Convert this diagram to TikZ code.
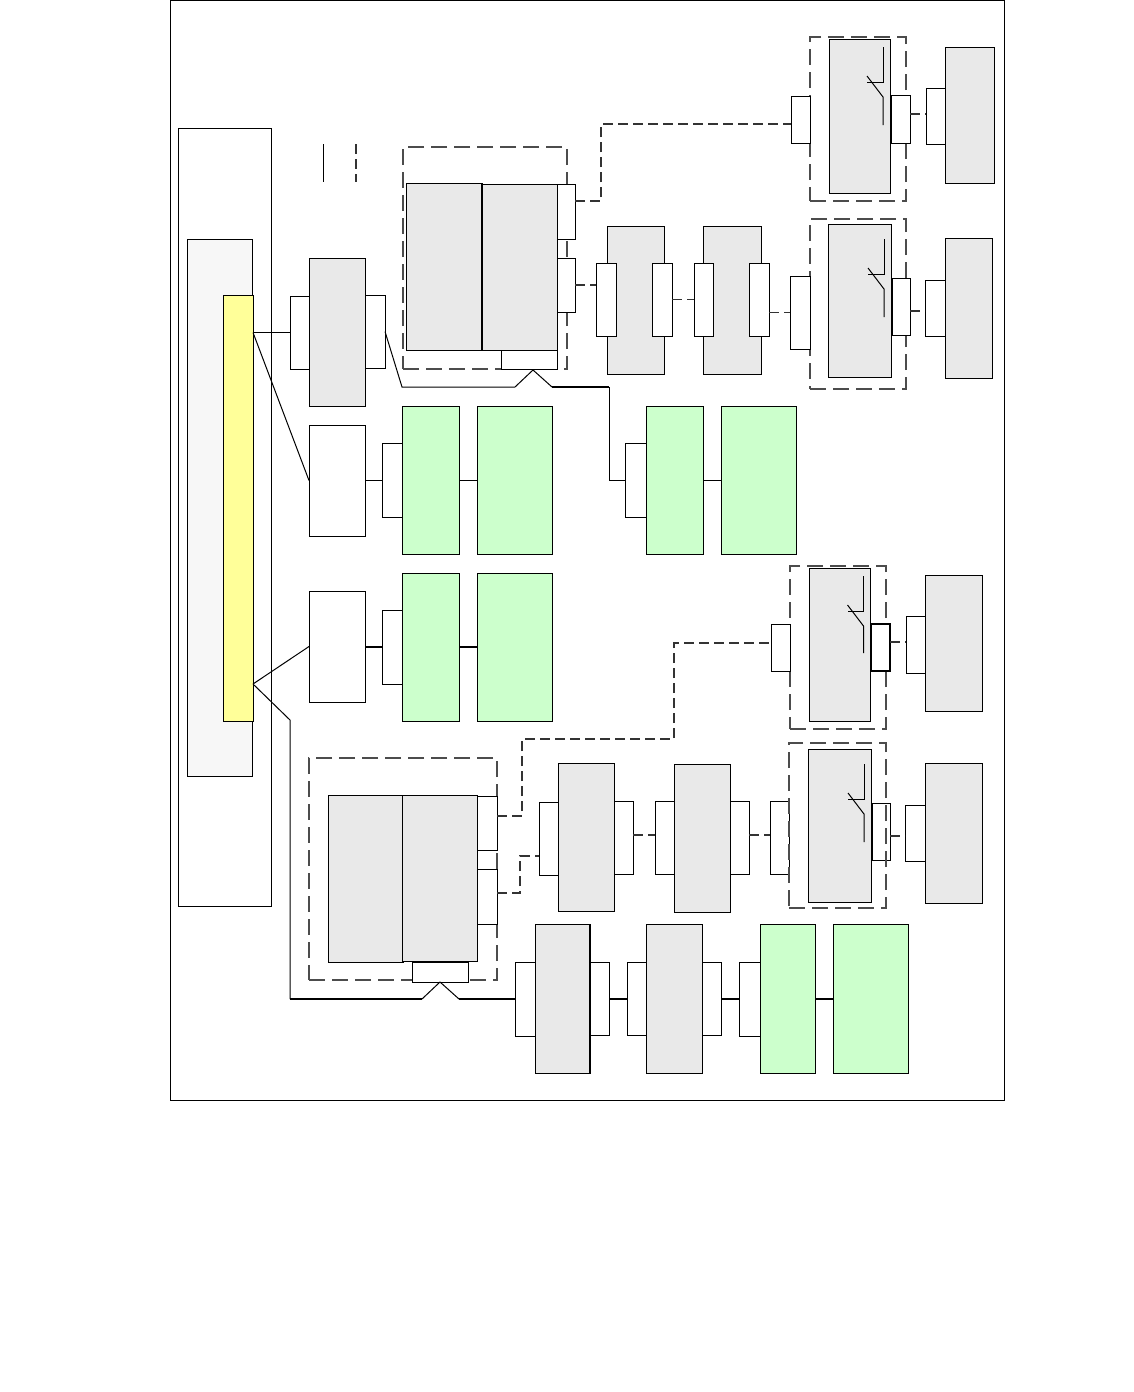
\documentclass[tikz,border=0pt]{standalone}
\usepackage{xcolor}
\definecolor{blockgrey}{HTML}{E9E9E9}
\definecolor{blockgreen}{HTML}{CCFFCC}
\definecolor{blockyellow}{HTML}{FFFF99}
\definecolor{panelgrey}{HTML}{F7F7F7}
\tikzset{
	blockbase/.style={draw,inner sep=0pt,outer sep=0pt,line width=0.5pt},
	portbox/.style={blockbase,fill=white},
	greybox/.style={blockbase,fill=blockgrey},
	greenbox/.style={blockbase,fill=blockgreen},
	groupbox/.style={blockbase,draw=black!70,line width=0.6pt,dash pattern=on 8pt off 3.5pt},
	wire/.style={line width=0.5pt},
	heavywire/.style={line width=1pt},
	dashwire/.style={line width=0.58pt,draw=black!80,dash pattern=on 5pt off 2.5pt},
}
\newcommand{\blk}[6]{\node[#1,minimum width={(#5-#3)*0.5pt},minimum height={(#6-#4)*0.5pt}] (#2) at ({(#3+#5)/2},{(#4+#6)/2}) {};}
\begin{document}
\begin{tikzpicture}[x=0.5pt,y=-0.5pt,line join=miter]
	\useasboundingbox (0,0) rectangle (1134,1392);
	\blk{portbox}{frame}{170}{0}{1004}{1100}
	\blk{portbox}{column}{178}{128}{271}{906}
	\blk{blockbase,fill=panelgrey}{panel}{187}{239}{252}{776}
	\blk{blockbase,fill=blockyellow}{bus}{223}{295}{253}{721}
	
	\draw[wire] (323,144) -- (323,182);
	\draw[dashwire] (356,144) -- (356,182);
	
	\foreach \nm/\xa/\ya/\xb/\yb in {gpa/403/147/567/369,gpb/810/37/906/201,gpc/810/219/906/389,gpd/790/566/886/729,gpf/309/758/497/980} {
		\blk{groupbox}{\nm}{\xa}{\ya}{\xb}{\yb}
	}
	
	\foreach \nm/\xa/\ya/\xb/\yb in {
		ga/406/183/482/350,gb/482/184/557/350,
		sa/829/39/890/193,ta/945/47/994/183,
		sb/828/224/891/377,tb/945/238/992/378,
		ma/607/226/664/374,mb/703/226/761/374,
		la/309/258/365/406,
		sc/809/568/870/721,tc/925/575/982/711,
		sd/808/749/871/902,td/925/763/982/903,
		na/558/763/614/911,nb/674/764/730/912,
		ha/328/795/403/962,hb/402/795/477/961,
		ka/535/924/590/1073,kb/646/924/702/1073} {
		\blk{greybox}{\nm}{\xa}{\ya}{\xb}{\yb}
	}
	
	\foreach \nm/\xa/\ya/\xb/\yb in {
		ea/402/406/459/554,eb/477/406/552/554,
		ec/646/406/703/554,ed/721/406/796/554,
		ee/402/573/459/721,ef/477/573/552/721,
		eg/760/924/815/1073,eh/833/924/908/1073} {
		\blk{greenbox}{\nm}{\xa}{\ya}{\xb}{\yb}
	}
	
	\foreach \nm/\xa/\ya/\xb/\yb in {
		wa/309/425/365/536,wb/309/591/365/702,
		pa/557/184/575/239,pb/557/258/575/312,pc/501/350/557/369,
		pd/791/96/810/143,pe/891/95/910/143,pf/926/88/945/144,
		pg/790/276/810/349,ph/892/278/910/335,pi/925/280/945/336,
		pj/596/263/616/336,pk/652/263/672/336,pl/694/263/713/336,pm/749/263/769/336,
		pn/290/296/309/369,po/365/295/385/368,
		pp/382/443/402/517,pq/625/443/646/517,pr/382/610/402/684,
		ps/771/624/790/671,pu/906/616/925/673,
		pv/770/801/789/874,pw/872/803/890/860,px/905/805/925/861,
		qa/539/802/558/875,qb/614/801/633/874,qc/655/801/674/874,qd/730/801/749/874,
		qe/477/796/497/850,qf/477/869/497/924,qg/412/962/468/982,
		qh/515/962/535/1036,qi/590/962/609/1035,qj/627/962/646/1035,qk/702/962/721/1035,ql/739/962/760/1036} {
		\blk{portbox}{\nm}{\xa}{\ya}{\xb}{\yb}
	}
	\blk{portbox,line width=1pt}{pt}{871}{624}{890}{671}
	
	\blk{groupbox}{gpe}{789}{743}{886}{908}
	\draw[line width=1pt] (gb.north west) -- (gb.south west);
	\draw[line width=1pt] (ka.north east) -- (ka.south east);
	
	% switches
	\foreach \xs/\ys/\ye in {883/47/125,884/239/317,863.5/576/653,864/764/842} {
		\draw[wire] (\xs,\ys) -- (\xs,\ys+35) -- (\xs-16,\ys+35);
		\draw[wire] (\xs-16,\ys+29) -- (\xs,\ys+50) -- (\xs,\ye);
	}
	
	\coordinate (tapa) at (253,684);
	\coordinate (tapb) at (290,720);
	\coordinate (tapc) at (290,999);
	\coordinate (upa) at (402,387);
	\coordinate (upb) at (515,387);
	\coordinate (upc) at (533,370);
	\coordinate (upd) at (552,387);
	\coordinate (upe) at (609,387);
	\coordinate (lowa) at (422,999);
	\coordinate (lowb) at (440,982);
	\coordinate (lowc) at (459,999);
	
	\draw[wire] (bus.east |- pn.west) -- (pn.west);
	\draw[wire] (bus.east |- pn.west) -- (wa.west);
	\draw[wire] (tapa) -- (wb.west);
	\draw[wire] (tapa) -- (tapb) -- (tapc);
	\draw[heavywire] (tapc) -- (lowa);
	\draw[wire] (lowa) -- (lowb) -- (lowc);
	\draw[heavywire] (lowc) -- (qh.west);
	\draw[wire] (po.east) -- (upa) -- (upb) -- (upc) -- (upd);
	\draw[heavywire] (upd) -- (upe);
	\draw[wire] (upe) |- (pq.west);
	
	\draw[wire] (wa.east) -- (wa.east -| pp.west);
	\draw[wire] (ea.east) -- (eb.west);
	\draw[wire] (ec.east) -- (ed.west);
	\draw[heavywire] (wb.east) -- (wb.east -| pr.west);
	\draw[heavywire] (ee.east) -- (ef.west);
	\draw[heavywire] (qi.east) -- (qi.east -| qj.west);
	\draw[heavywire] (qk.east) -- (qk.east -| ql.west);
	\draw[heavywire] (eg.east) -- (eh.west);
	
	\coordinate (topa) at (601,201);
	\coordinate (topb) at (601,124);
	\coordinate (mida) at (522,816);
	\coordinate (midb) at (522,739);
	\coordinate (midc) at (674,739);
	\coordinate (midd) at (674,643);
	\coordinate (mide) at (520,893);
	\coordinate (midf) at (520,856);
	
	\draw[dashwire] (pa.east |- topa) -- (topa) -- (topb) -- (pd.west |- topb);
	\draw[dashwire] (pb.east) -- (pb.east -| pj.west);
	\draw[dashwire] (pk.east) -- (pl.west);
	\draw[dashwire] (pm.east |- pg.west) -- (pg.west);
	\draw[dashwire] (pe.east |- 0,114) -- (pf.west |- 0,114);
	\draw[dashwire] (ph.east |- 0,311) -- (pi.west |- 0,311);
	\draw[dashwire] (pt.east |- 0,642) -- (pu.west |- 0,642);
	\draw[dashwire] (pw.east |- 0,836) -- (px.west |- 0,836);
	\draw[dashwire] (qb.east |- 0,835) -- (qc.west |- 0,835);
	\draw[dashwire] (qd.east |- 0,835) -- (pv.west |- 0,835);
	\draw[dashwire] (qe.east |- mida) -- (mida) -- (midb) -- (midc) -- (midd) -- (ps.west |- midd);
	\draw[dashwire] (qf.east |- mide) -- (mide) -- (midf) -- (qa.west |- midf);
\end{tikzpicture}
\end{document}
